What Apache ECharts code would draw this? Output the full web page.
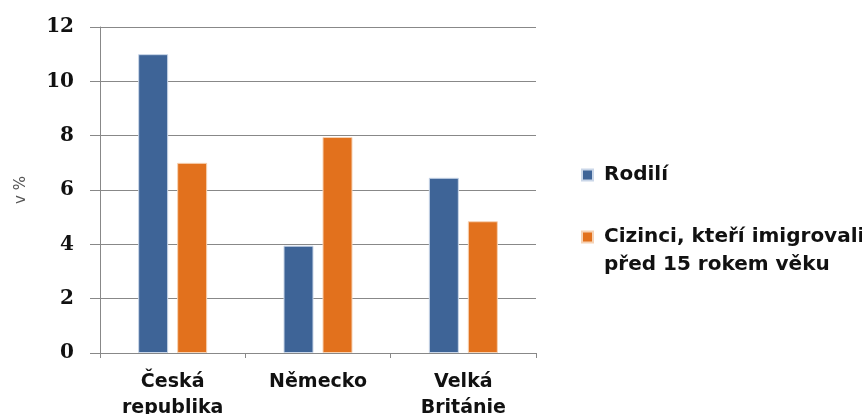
<!DOCTYPE html>
<html>
<head>
<meta charset="utf-8">
<script src="https://cdn.jsdelivr.net/npm/echarts@6/dist/echarts.min.js"></script>
<style>html,body{margin:0;padding:0;background:#fff;}#c{width:862px;height:414px;}</style>
</head>
<body>
<div id="c"></div>
<script>
const categories = ['Česká\nrepublika', 'Německo', 'Velká\nBritánie'];
const seriesNames = ['Rodilí', 'Cizinci, kteří imigrovali\npřed 15 rokem věku'];
const rodili = [11, 3.95, 6.45];
const cizinci = [7, 7.95, 4.85];
const yTicks = [0, 2, 4, 6, 8, 10, 12];

const chart = echarts.init(document.getElementById('c'));
const sansBold = '"DejaVu Sans", "Noto Sans", sans-serif';
const legendText = {fontFamily: sansBold, fontWeight: 'bold', fontSize: 20, color: '#111', lineHeight: 28,
  rich: {t: {fontFamily: sansBold, fontWeight: 'bold', fontSize: 20, color: '#111', lineHeight: 28, padding: [0, 0, 0, 6]}}};
const richLines = n => n.split('\n').map(s => '{t|' + s + '}').join('\n');
chart.setOption({
  animation: false,
  backgroundColor: '#fff',
  grid: {left: 100, right: 326, top: 27, bottom: 61, containLabel: false, outerBoundsMode: 'none'},
  legend: [
    {data: [seriesNames[0]], orient: 'vertical', left: 581, top: 161, padding: 0, itemWidth: 11, itemHeight: 11, itemGap: 0,
     icon: 'rect', textStyle: legendText, formatter: n => richLines(n)},
    {data: [seriesNames[1]], orient: 'vertical', left: 581, top: 195, padding: 0, itemWidth: 11, itemHeight: 11, itemGap: 0,
     icon: 'rect', textStyle: legendText, formatter: n => '{t| }\n' + richLines(n)}
  ],
  xAxis: {
    type: 'category', data: categories,
    axisLine: {lineStyle: {color: '#888', width: 1}},
    axisTick: {show: true, length: 5, lineStyle: {color: '#888'}},
    axisLabel: {fontFamily: sansBold, fontWeight: 'bold', fontSize: 19, color: '#111', lineHeight: 26, margin: 16}
  },
  yAxis: {
    type: 'value', min: 0, max: 12, interval: 2,
    name: 'v %', nameLocation: 'middle', nameGap: 71, nameRotate: 90,
    nameTextStyle: {fontFamily: '"DejaVu Sans", sans-serif', fontSize: 15, color: '#555'},
    axisLine: {show: true, lineStyle: {color: '#888'}},
    axisTick: {show: true, inside: false, length: 10, lineStyle: {color: '#888'}},
    axisLabel: {margin: 26, fontFamily: '"DejaVu Serif", serif', fontWeight: 'bold', fontSize: 20, color: '#111',
      formatter: v => yTicks.includes(v) ? String(v) : ''},
    splitLine: {lineStyle: {color: '#888', width: 1}}
  },
  series: [
    {name: seriesNames[0], type: 'bar', data: rodili, barWidth: 30, barGap: '30%',
     itemStyle: {color: '#3e6497', borderColor: '#c9d6e8', borderWidth: 1}},
    {name: seriesNames[1], type: 'bar', data: cizinci, barWidth: 30,
     itemStyle: {color: '#e2711d', borderColor: '#f6d2b4', borderWidth: 1}}
  ]
});
</script>
</body>
</html>
